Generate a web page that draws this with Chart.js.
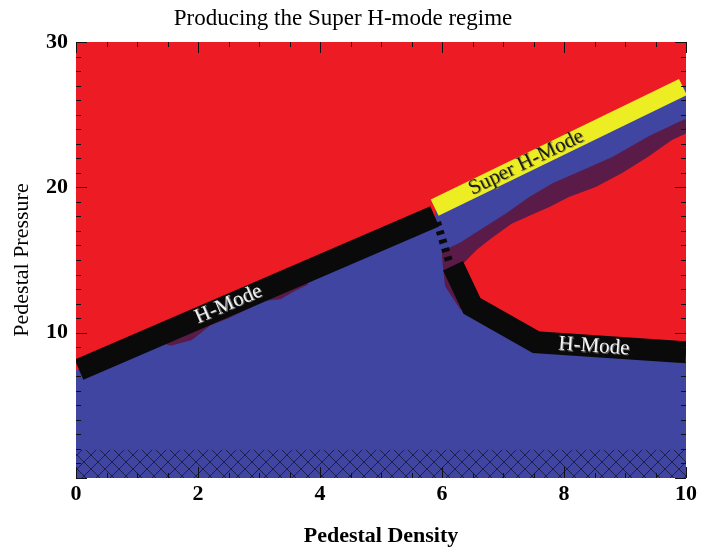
<!DOCTYPE html>
<html>
<head>
<meta charset="utf-8">
<script src="https://cdn.jsdelivr.net/npm/chart.js@4.4.1/dist/chart.umd.min.js"></script>
<style>
  html, body { margin: 0; padding: 0; background: #fff; }
  #wrap { width: 702px; height: 550px; }
</style>
</head>
<body>
<div id="wrap"><canvas id="c" width="702" height="550"></canvas></div>
<script>
// thick boundary lines (density, pressure)
var hmodeX = [0.05, 5.88];
var hmodeY = [7.45, 18.0];
var superX = [5.88, 9.95];
var superY = [18.6, 26.9];
var gapX = [5.92, 6.13];
var gapY = [17.6, 14.7];
var lowX = [6.18, 6.49, 7.54, 10];
var lowY = [14.6, 11.85, 9.35, 8.65];

// stable (blue) region upper edge
var blueX = [0, 5.88, 5.9, 10];
var blueY = [7.4, 18.0, 18.6, 27.0];

// unstable pocket on the right: base, purple edge, red edge
var pocketX = [6.0, 6.05, 6.3, 6.49, 7.54, 10];
var pocketY = [15.2, 13.2, 11.6, 11.85, 9.35, 8.65];
var purpleX = [6.0, 6.3, 6.62, 7.06, 7.43, 7.82, 8.31, 8.80, 9.38, 9.93, 10];
var purpleY = [15.6, 16.2, 17.07, 18.24, 19.34, 20.3, 21.2, 22.1, 23.5, 24.6, 24.7];
var redX = [6.36, 6.57, 6.81, 7.14, 7.46, 7.76, 8.08, 8.52, 8.96, 9.38, 9.77, 10];
var redY = [14.8, 15.7, 16.5, 17.5, 18.1, 18.65, 19.34, 20.03, 21.0, 22.1, 23.26, 23.7];

// small purple bumps under the H-mode line
var bumpX = [1.3, 1.55, 1.9, 2.2, 2.5, 3.1, 3.35, 3.6, 3.8];
var bumpY = [9.5, 9.1, 9.5, 10.5, 11.0, 12.2, 12.3, 12.9, 13.3];

// hatched band at the bottom
var hatchX = [0, 10];
var hatchY = [1.95, 1.95];

var xTicks = [0, 2, 4, 6, 8, 10];
var yTicks = [0, 10, 20, 30];

var RED = '#ED1C24', BLUE = '#3F45A1', PURPLE = '#5A1B49', YELLOW = '#EDED24', BLACK = '#0A0A0A';
var NONE = 'rgba(0,0,0,0)';

function pts(xs, ys) {
  return xs.map(function (v, i) { return {x: v, y: ys[i]}; });
}

var ctx = document.getElementById('c').getContext('2d');

// 교차 빗금 패턴
function hatchPattern() {
  var c = document.createElement('canvas');
  c.width = 14; c.height = 14;
  var g = c.getContext('2d');
  g.strokeStyle = 'rgba(28,28,70,0.95)';
  g.lineWidth = 1;
  g.beginPath();
  g.moveTo(0, 0); g.lineTo(14, 14);
  g.moveTo(14, 0); g.lineTo(0, 14);
  g.stroke();
  return ctx.createPattern(c, 'repeat');
}

function band(data, color, width, order) {
  return {data: data, showLine: true, borderColor: color, borderWidth: width,
    borderCapStyle: 'butt', borderJoinStyle: 'miter', pointRadius: 0, fill: false, order: order, clip: 0};
}
function area(data, color, fill, order) {
  return {data: data, showLine: true, borderColor: NONE, borderWidth: 1, backgroundColor: color,
    pointRadius: 0, fill: fill, order: order, clip: 0};
}

var gap = band(pts(gapX, gapY), BLACK, 8, 1);
gap.borderDash = [4, 5];

var datasets = [
  band(pts(hmodeX, hmodeY), BLACK, 22, 1),          // 0
  band(pts(superX, superY), YELLOW, 18, 1),         // 1
  gap,                                               // 2
  band(pts(lowX, lowY), BLACK, 22, 1),              // 3
  area(pts(blueX, blueY), BLUE, 'origin', 10),      // 4
  area(pts(pocketX, pocketY), NONE, false, 11),     // 5
  area(pts(purpleX, purpleY), PURPLE, 5, 9),        // 6
  area(pts(redX, redY), RED, 5, 8),                 // 7
  area(pts(bumpX, bumpY), PURPLE, 0, 7),            // 8
  area(pts(hatchX, hatchY), hatchPattern(), 'origin', 6) // 9
];

// 축 안쪽 눈금과 띠 위의 글자
var boxTicks = {
  id: 'boxTicks',
  beforeDatasetsDraw: function (chart) {
    var a = chart.chartArea, c = chart.ctx;
    c.save();
    c.fillStyle = RED;
    c.fillRect(a.left, a.top, a.right - a.left, a.bottom - a.top);
    c.restore();
  },
  afterDatasetsDraw: function (chart) {
    var c = chart.ctx, a = chart.chartArea, sx = chart.scales.x, sy = chart.scales.y;
    c.save();
    c.strokeStyle = '#111';
    c.lineWidth = 1;
    c.beginPath();
    for (var i = 0; i <= 20; i++) {
      var v = i * 0.5;
      var px = Math.round(sx.getPixelForValue(v)) + 0.5;
      var len = (i % 4 === 0) ? 11 : 5;
      c.moveTo(px, a.bottom); c.lineTo(px, a.bottom - len);
      c.moveTo(px, a.top); c.lineTo(px, a.top + len);
    }
    for (var j = 0; j <= 30; j++) {
      var py = Math.round(sy.getPixelForValue(j)) + 0.5;
      var l2 = (j % 10 === 0) ? 11 : 5;
      c.moveTo(a.left, py); c.lineTo(a.left + l2, py);
      c.moveTo(a.right, py); c.lineTo(a.right - l2, py);
    }
    c.stroke();

    function label(text, xs, ys, at, fg, bg) {
      var x1 = sx.getPixelForValue(xs[0]), y1 = sy.getPixelForValue(ys[0]);
      var x2 = sx.getPixelForValue(xs[xs.length - 1]), y2 = sy.getPixelForValue(ys[ys.length - 1]);
      var ang = Math.atan2(y2 - y1, x2 - x1);
      c.save();
      c.translate(sx.getPixelForValue(at[0]), sy.getPixelForValue(at[1]));
      c.rotate(ang);
      c.font = '21px "Liberation Serif", serif';
      c.textAlign = 'center';
      c.textBaseline = 'middle';
      c.fillStyle = bg;
      c.fillText(text, 1, 1);
      c.fillStyle = fg;
      c.fillText(text, 0, 0);
      c.restore();
    }
    label('H-Mode', hmodeX, hmodeY, [2.5, 11.95], '#f2f2f2', '#666');
    label('Super H-Mode', superX, superY, [7.38, 21.7], '#1a1a1a', '#9a9a30');
    label('H-Mode', [7.54, 10], [9.35, 8.65], [8.49, 9.05], '#f4f4f4', '#666');
    c.restore();
  }
};

var serif = '"Liberation Serif", "Times New Roman", serif';

new Chart(ctx, {
  type: 'scatter',
  data: {datasets: datasets},
  options: {
    responsive: false,
    animation: false,
    layout: {padding: {left: 0, right: 16, top: 0, bottom: 0}},
    plugins: {
      legend: {display: false},
      tooltip: {enabled: false},
      title: {
        display: true,
        text: 'Producing the Super H-mode regime',
        color: '#000',
        font: {family: serif, size: 23, weight: 'normal', lineHeight: 1.2},
        padding: {top: 5, bottom: 9.4}
      }
    },
    elements: {line: {tension: 0}},
    scales: {
      x: {
        type: 'linear', min: 0, max: 10,
        afterFit: function (s) { s.height = 72; },
        afterBuildTicks: function (s) { s.ticks = xTicks.map(function (v) { return {value: v}; }); },
        grid: {display: false, drawTicks: false},
        border: {display: false},
        ticks: {color: '#000', padding: 3, font: {family: serif, size: 22, weight: 'bold'}},
        title: {display: true, text: 'Pedestal Density', color: '#000',
          padding: {top: 0, bottom: 0}, font: {family: serif, size: 22, weight: 'bold', lineHeight: 1.2}}
      },
      y: {
        type: 'linear', min: 0, max: 30,
        afterFit: function (s) { s.width = 76; },
        afterBuildTicks: function (s) { s.ticks = yTicks.map(function (v) { return {value: v}; }); },
        grid: {display: false, drawTicks: false},
        border: {display: false},
        ticks: {color: '#000', padding: 8, font: {family: serif, size: 22, weight: 'bold'},
          callback: function (v) { return v === 0 ? '' : v; }},
        title: {display: true, text: 'Pedestal Pressure', color: '#000',
          padding: {top: 9, bottom: 0}, font: {family: serif, size: 22, weight: 'normal', lineHeight: 1.2}}
      }
    }
  },
  plugins: [boxTicks]
});
</script>
</body>
</html>
